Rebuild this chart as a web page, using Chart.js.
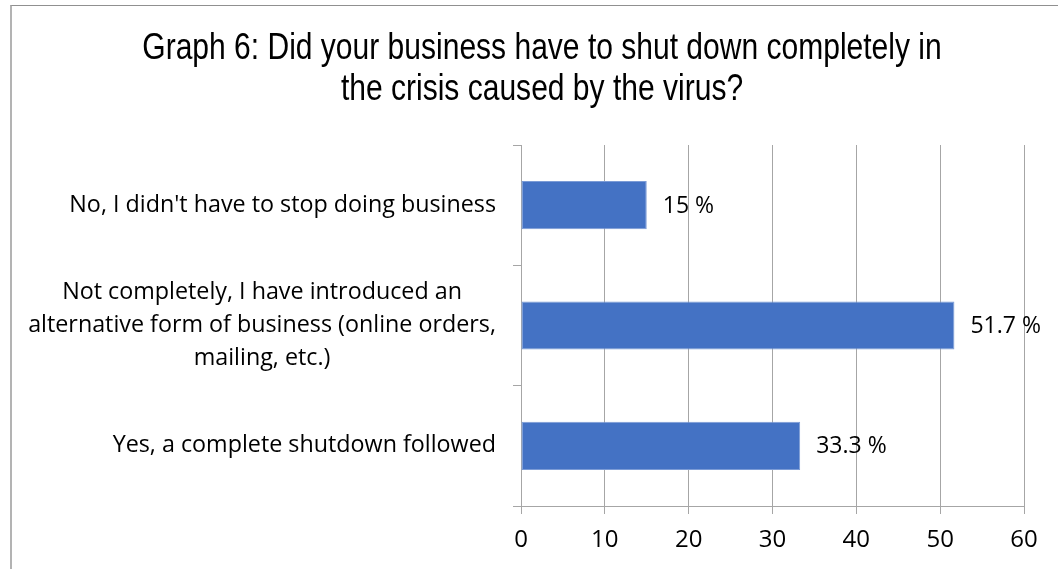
<!DOCTYPE html>
<html>
<head>
<meta charset="utf-8">
<script src="https://cdn.jsdelivr.net/npm/chart.js@4"></script>
<style>
  html, body { margin: 0; padding: 0; background: #fff; overflow: hidden; }
  .frame {
    position: absolute; left: 10px; top: 5px;
    width: 1060px; height: 580px;
    border-left: 2px solid #b3b3b3;
    border-top: 1px solid #909090;
  }
  canvas { display: block; }
</style>
</head>
<body>
<div class="frame">
  <canvas id="shutdownChart" width="1060" height="580"></canvas>
</div>
<script>
// answers, top to bottom
const answers = [
  "No, I didn't have to stop doing business",
  ["Not completely, I have introduced an", "alternative form of business (online orders,", "mailing, etc.)"],
  "Yes, a complete shutdown followed"
];
const shares = [15, 51.7, 33.3];
const xTicks = [0, 10, 20, 30, 40, 50, 60];

const chartTitle = ["Graph 6: Did your business have to shut down completely in", "the crisis caused by the virus?"];

const labelFont = "'Open Sans', sans-serif";
const gridGray = "#a6a6a6";

// narrow title: Liberation Sans squeezed horizontally
const narrowTitle = {
  id: "narrowTitle",
  afterDraw(chart) {
    const ctx = chart.ctx;
    const squeeze = 0.834;
    const cx = 530;
    ctx.save();
    ctx.font = "36px 'Liberation Sans', Arial, sans-serif";
    ctx.fillStyle = "#000";
    ctx.textAlign = "center";
    ctx.textBaseline = "middle";
    ctx.translate(cx, 0);
    ctx.scale(squeeze, 1);
    chartTitle.forEach((line, i) => {
      ctx.fillText(line, 0, 43 + i * 41);
    });
    ctx.restore();
  }
};

// value labels to the right of each bar
const valueLabels = {
  id: "valueLabels",
  afterDatasetsDraw(chart) {
    const ctx = chart.ctx;
    const meta = chart.getDatasetMeta(0);
    ctx.save();
    ctx.font = "23px " + labelFont;
    ctx.fillStyle = "#000";
    ctx.textAlign = "left";
    ctx.textBaseline = "middle";
    meta.data.forEach((bar, i) => {
      ctx.fillText(shares[i] + " %", bar.x + 16, bar.y + 1);
    });
    ctx.restore();
  }
};

// category labels, wrapped lines centred on each other
const categoryLabels = {
  id: "categoryLabels",
  afterDraw(chart) {
    const ctx = chart.ctx;
    const yScale = chart.scales.y;
    const right = yScale.right - 25;
    const lineH = 33;
    ctx.save();
    ctx.font = "23.3px " + labelFont;
    ctx.fillStyle = "#000";
    ctx.textAlign = "center";
    ctx.textBaseline = "middle";
    answers.forEach((label, i) => {
      const lines = Array.isArray(label) ? label : [label];
      const widest = Math.max(...lines.map(l => ctx.measureText(l).width));
      const cx = right - widest / 2;
      const cy = yScale.getPixelForValue(i);
      lines.forEach((line, j) => {
        ctx.fillText(line, cx, cy + (j - (lines.length - 1) / 2) * lineH);
      });
    });
    ctx.restore();
  }
};

new Chart(document.getElementById("shutdownChart"), {
  type: "bar",
  data: {
    labels: answers,
    datasets: [{
      data: shares,
      backgroundColor: "#4472c4",
      borderColor: "#7b9bd6",
      borderWidth: 1,
      borderSkipped: false,
      categoryPercentage: 1,
      barPercentage: 0.4
    }]
  },
  options: {
    indexAxis: "y",
    responsive: false,
    animation: false,
    layout: { padding: { left: 0, right: 48, top: 139, bottom: 0 } },
    plugins: {
      legend: { display: false },
      tooltip: { enabled: false },
      title: { display: false }
    },
    scales: {
      x: {
        min: 0,
        max: 60,
        afterBuildTicks: scale => { scale.ticks = xTicks.map(v => ({ value: v })); },
        afterFit: scale => { scale.height = 80; },
        grid: { color: gridGray, lineWidth: 1, tickLength: 8, tickColor: gridGray },
        border: { display: true, color: gridGray, width: 1 },
        ticks: { color: "#000", padding: 12, font: { family: labelFont, size: 24 } }
      },
      y: {
        afterFit: scale => { scale.width = 509; },
        grid: { drawOnChartArea: false, offset: true, tickLength: 8, color: gridGray },
        border: { display: true, color: gridGray, width: 1 },
        ticks: { display: false }
      }
    }
  },
  plugins: [narrowTitle, valueLabels, categoryLabels]
});
</script>
</body>
</html>
